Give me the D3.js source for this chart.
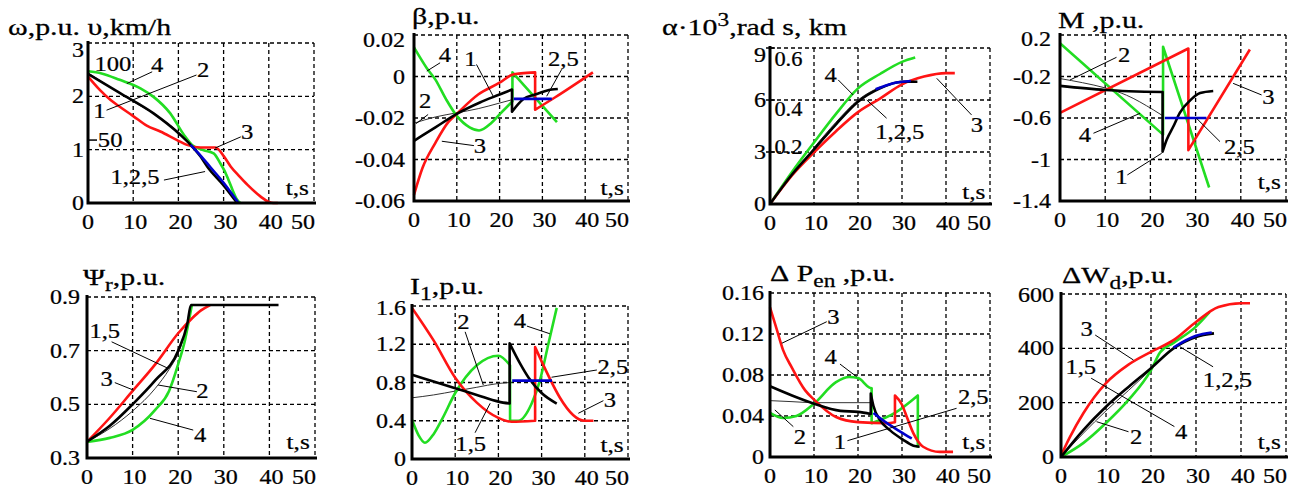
<!DOCTYPE html>
<meta charset="utf-8">
<head>
  <title>Braking transients</title>
  <script src="https://cdn.jsdelivr.net/npm/d3@7/dist/d3.min.js"></script>
  <style>
    body { margin: 0; background: #fff; }
    text { font-family: 'Liberation Serif', 'Times New Roman', serif; fill: #000; stroke: #000; stroke-width: 0.25px; }
  </style>
</head>
<body>
<div id="chart"></div>
<script>
// ---- data: time axis ticks
const xTicks = [0, 10, 20, 30, 40, 50];

// ---- panel 1: omega (p.u.)
const w1 = [[0,2.42],[7.1,2.06],[14.5,1.68],[20.4,1.28],[22.7,1.09],[24.9,0.87],[26.4,0.68],[30,0.33],[33,0]];
const w2 = [[0,2.44],[5,2.17],[10,1.9],[15,1.65],[20,1.33],[22.7,1.1]];
const w3 = [[0,2.37],[2.5,2.13],[5,1.93],[7.1,1.8],[10,1.63],[13,1.45],[16,1.34],[19.7,1.18],[21.9,1.09],[24.9,1.04],[28.2,1.04],[30.1,0.87],[31.6,0.68],[33.5,0.5],[35.3,0.34],[38.2,0.12],[40,0.02],[41,0],[42,0]];
const w4 = [[0,2.47],[3,2.43],[7,2.31],[11.6,2.15],[14.5,1.99],[18.2,1.68],[21.2,1.28],[23,1.09],[25.6,0.99],[27.8,0.93],[29.3,0.74],[30.1,0.62],[31,0.45],[32,0.24],[33,0.06],[33.7,0]];
const w5 = [[22.7,1.09],[25,0.88],[27,0.68],[30,0.38],[33.3,0]];

// ---- panel 2: beta (p.u.)
const b1 = [[0,-0.031],[5,-0.0245],[10,-0.018],[15.4,-0.0125],[20,-0.0087],[22.9,-0.0063],[22.9,-0.017],[25.5,-0.011],[28.3,-0.0087],[32.2,-0.0063],[33.6,-0.006]];
const b2 = [[0,-0.0225],[5,-0.0195],[10,-0.0175],[15,-0.0155],[20,-0.0128],[22.9,-0.0112]];
const b3 = [[0,-0.057],[2,-0.044],[5,-0.032],[8,-0.022],[10,-0.018],[15,-0.0087],[20,-0.003],[23.1,0.001],[25,0.0015],[28.3,0.002],[28.3,-0.016],[33,-0.01],[41.8,0.002]];
const b4 = [[0,0.014],[3,0.004],[5,-0.0015],[7.5,-0.011],[10,-0.019],[13,-0.0245],[15.2,-0.026],[18,-0.0225],[20.1,-0.018],[23,-0.012],[23,0.002],[33.4,-0.022]];
const b5 = [[23.3,-0.0108],[32.2,-0.0108]];

// ---- panel 3: alpha*10^3 (rad)
const a1 = [[0,0],[5,1.7],[10,3.15],[15,4.6],[20,5.9],[25,6.67],[30,7.05],[33.5,7.05]];
const a2 = [[10,3.25],[15,4.72],[20,6.0],[25,6.75]];
const a3 = [[0,0],[5,1.65],[10,2.98],[15,4.2],[20,5.3],[25,6.08],[30,6.9],[35,7.35],[40,7.55],[42,7.55]];
const a4 = [[0,0],[5,1.85],[10,3.55],[15,5.2],[20,6.67],[25,7.5],[30,8.2],[33,8.45]];
const a5 = [[24,6.62],[28,6.97],[32,7.1]];

// ---- panel 4: M (p.u.)
const m1 = [[0,-0.29],[10,-0.33],[22.7,-0.35],[22.7,-0.925],[23.6,-0.81],[25.1,-0.68],[26.5,-0.55],[28.8,-0.43],[31,-0.36],[33.9,-0.34]];
const m2 = [[0,-0.22],[5,-0.26],[10,-0.31],[14.7,-0.38],[20.6,-0.52],[22.8,-0.58]];
const m3 = [[0,-0.55],[28.4,0.07],[28.4,-0.91],[42,0.06]];
const m4 = [[0,0.12],[22.8,-0.76],[22.8,0.087],[33,-1.27]];
const m5 = [[23.2,-0.6],[32.4,-0.6]];

// ---- panel 5: Psi_r (p.u.)
const p1 = [[0,0.361],[5,0.42],[10,0.5],[15,0.59],[20,0.7],[22,0.8],[22.8,0.87],[42,0.87]];
const p2 = [[0,0.36],[5,0.41],[10,0.475],[15,0.56],[18,0.63],[20,0.69],[22,0.79]];
const p3 = [[0,0.36],[5,0.45],[10,0.55],[15,0.65],[20,0.765],[23,0.82],[25,0.85],[27,0.87]];
const p4 = [[0,0.36],[5,0.375],[10,0.405],[15,0.48],[18,0.55],[20,0.65],[21.5,0.74],[22.5,0.825],[23,0.87]];

// ---- panel 6: I1 (p.u.)
const i1 = [[0,0.88],[5,0.81],[10,0.74],[15,0.67],[20,0.6],[22.6,0.58],[22.6,1.21],[25,1.0],[27,0.85],[30,0.69],[33.5,0.58]];
const i2 = [[0,0.64],[5,0.67],[10,0.71],[15,0.75],[20,0.79],[22.6,0.8]];
const i3 = [[0,1.58],[5,1.24],[10,0.85],[15,0.59],[20,0.43],[23,0.39],[28.5,0.4],[28.5,1.17],[40,0.4],[42,0.4]];
const i4 = [[0,0.41],[1.5,0.25],[3,0.17],[5,0.26],[7,0.42],[10,0.69],[15,0.98],[20,1.08],[22.7,0.98],[22.7,0.4],[24.6,0.4],[27.7,0.58],[29.6,0.82],[31.6,1.21],[33.5,1.58]];
const i5 = [[23.2,0.82],[32.4,0.82]];

// ---- panel 7: dP_en (p.u.)
const e1 = [[0,0.069],[5,0.06],[10,0.052],[16,0.045],[20,0.044],[22.9,0.042],[22.9,0.062],[23.5,0.05],[25,0.036],[27.3,0.026],[30.2,0.017],[32.6,0.011],[34,0.01]];
const e2 = [[0,0.055],[5,0.054],[10,0.053],[15,0.053],[20,0.053],[22.9,0.053]];
const e3 = [[0,0.146],[1.5,0.125],[3,0.104],[5,0.087],[8,0.065],[10,0.056],[15,0.039],[20,0.034],[26.6,0.033],[28.4,0.034],[28.4,0.06],[30,0.051],[31.1,0.039],[32.6,0.023],[34.8,0.01],[38.6,0.005],[41.6,0.005]];
const e4 = [[0,0.043],[3,0.038],[6,0.04],[10,0.052],[15,0.073],[18,0.078],[20,0.077],[22.5,0.068],[23.1,0.067],[23.1,0.033],[28.4,0.043],[33.6,0.06],[33.6,0.009]];
const e5 = [[23.5,0.043],[26.6,0.033],[29.5,0.025],[32.2,0.018]];

// ---- panel 8: dW_d (p.u.)
const q1 = [[0,0],[5,100],[10,185],[15,258],[20,327],[25,400],[30,442],[34,455]];
const q2 = [[0,0],[5,88],[10,170],[15,245],[20,322]];
const q3 = [[0,5],[2,74],[5,162],[10,272],[15,340],[20,387],[25,430],[30,497],[35,552],[40,566],[42,566]];
const q4 = [[0,0],[5,52],[10,125],[15,210],[20,320],[22,385],[25,420],[30,480],[33,533]];
const q5 = [[25,403],[30,446],[33.5,458]];

// ---- y ticks and labels
const yt1 = [0,1,2,3],              yl1 = ['0','1','2','3'];
const yt2 = [-0.06,-0.04,-0.02,0,0.02], yl2 = ['-0.06','-0.04','-0.02','0','0.02'];
const yt3 = [0,3,6,9],              yl3 = ['0','3','6','9'];
const yt4 = [-1.4,-1,-0.6,-0.2,0.2],  yl4 = ['-1.4','-1','-0.6','-0.2','0.2'];
const yt5 = [0.3,0.5,0.7,0.9],      yl5 = ['0.3','0.5','0.7','0.9'];
const yt6 = [0,0.4,0.8,1.2,1.6],    yl6 = ['0','0.4','0.8','1.2','1.6'];
const yt7 = [0,0.04,0.08,0.12,0.16], yl7 = ['0','0.04','0.08','0.12','0.16'];
const yt8 = [0,200,400,600],        yl8 = ['0','200','400','600'];

// ---- curve labels: [text, t, v, leader t1, v1, t2, v2]
const n1 = [['4',15.3,2.46,14.2,2.46,8.6,2.24],['2',25.5,2.36,24,2.4,4.1,1.74],['1',2.5,1.6],
            ['3',35.2,1.2,33.8,1.24,28.1,1.03],['1,2,5',10.4,0.36,16.8,0.43,25.9,0.59],
            ['100',5.5,2.475],['50',4.9,1.05]];
const n2 = [['4',7.2,0.007,6.1,0.0066,3,0.0026],['1',13.2,0.0053,14.6,0.0058,18.5,-0.0095],
            ['2,5',34.9,0.0053,34.5,0.0034,31,-0.0095],['2',2.6,-0.0154,3.3,-0.0183,0.5,-0.0227],
            ['3',15.4,-0.0371,14,-0.0333,6.5,-0.0312]];
const n3 = [['4',13.8,7.01,15.5,7.16,18.9,6.29],['1,2,5',29.5,3.75,26.5,4.95,22,6.0],
            ['3',47,4.13,45.8,5.14,37.9,7.25]];
const n3km = [['0.6',7.96],['0.4',5.08],['0.2',2.89]];
const n4 = [['2',14.2,-0.065,12.5,-0.015,2.2,-0.234],['3',46.1,-0.465,44.6,-0.378,38.3,-0.266],
            ['4',5.5,-0.836,7.4,-0.747,17.7,-0.555],['2,5',39.7,-0.947,35.4,-0.828,30.2,-0.603],
            ['1',13.6,-1.236,14.9,-1.149,22.5,-0.94]];
const n5 = [['1,5',3.9,0.749,5.4,0.733,17.8,0.634],['3',4.3,0.568,6.1,0.581,10.2,0.553],
            ['2',25.3,0.525,24.1,0.547,15.6,0.572],['4',24.8,0.358,23.3,0.404,13.8,0.448]];
const n6 = [['2',11.9,1.36,12.3,1.33,16.5,0.774],['4',25,1.375,26.6,1.39,31.9,1.31],
            ['2,5',46.5,0.889,42.8,0.931,32.3,0.855],['3',45.8,0.539,44.3,0.61,38.5,0.478],
            ['1,5',13.6,0.084,14.6,0.275,18.1,0.583]];
const n7 = [['3',14.4,0.13,12.9,0.132,2.7,0.111],['4',13.8,0.0907,15.9,0.0907,19.7,0.0783],
            ['2',6.8,0.0127,5.3,0.0296,1.1,0.0459],['1',15.9,0.0078,17.6,0.0159,42.4,0.0475],
            ['2,5',46.2,0.0517]];
const n8 = [['3',5.7,445,7.6,449,16.1,357],['1,2,5',37,256,33.8,332,26.4,406],
            ['1,5',4.4,305,6.7,290,25.2,112],['4',26.7,66],['2',16.7,48,15,93,7.9,130]];

const green = '#22dd22', red = '#ff1414', blue = '#0000cc', thin = '#333';

// panel layout (pixels) and content
const panels = [
  {box:[88,314,43,203], y:[0,3], yt:yt1, yl:yl1, gap:4, top:7,
   title:[['ω,p.u.\u00a0υ,km/h']], tx:8, ty:35, ts:[0,0.15],
   s:[w2,w4,w3,w1,w5], n:n1, tick:[1.18]},
  {box:[414,628,35,201], y:[-0.06,0.02], yt:yt2, yl:yl2, gap:9, top:5,
   title:[['β,p.u.']], tx:412, ty:24, ts:[0,-0.0569],
   s:[b2,b4,b3,b1,b5], n:n2},
  {box:[770,990,48,204], y:[0,9], yt:yt3, yl:yl3, gap:4, top:7,
   title:[['α·10'],['3','sup'],[',rad\u00a0s,\u00a0km']], tx:662, ty:35, ts:[0,0.29],
   s:[a2,a4,a3,a1,a5], n:n3, km:n3km, cross:true},
  {box:[1060,1286,35,201], y:[-1.4,0.2], yt:yt4, yl:yl4, gap:9, top:4,
   title:[['M\u00a0,p.u.']], tx:1058, ty:28, ts:[0,-1.284],
   s:[m2,m4,m3,m1,m5], n:n4},
  {box:[87,315,297,458], y:[0.3,0.9], yt:yt5, yl:yl5, gap:7, top:0,
   title:[['Ψ'],['r','sub'],[',p.u.']], tx:83, ty:285, ts:[0,0.334],
   s:[p2,p4,p3,p1], n:n5},
  {box:[412,628,306,459], y:[0,1.6], yt:yt6, yl:yl6, gap:6, top:2,
   title:[['I'],['1','sub'],[',p.u.']], tx:410, ty:294, ts:[0,0.073],
   s:[i2,i4,i3,i1,i5], n:n6},
  {box:[770,990,293,457], y:[0,0.16], yt:yt7, yl:yl7, gap:6, top:0,
   title:[['Δ\u00a0P'],['en','sub'],['\u00a0,p.u.']], tx:770, ty:281, ts:[0,0.0078],
   s:[e2,e4,e3,e1,e5], n:n7},
  {box:[1061,1286,294,457], y:[0,600], yt:yt8, yl:yl8, gap:7, top:1,
   title:[['ΔW'],['d','sub'],[',p.u.']], tx:1062, ty:283, ts:[0,29],
   s:[q2,q4,q3,q1,q5], n:n8}
];
const styles = [
  {c:thin, w:1}, {c:green, w:2.6}, {c:red, w:2.6}, {c:'#000', w:2.6}, {c:blue, w:2.6}
];

const W = 1301, H = 489;
const svg = d3.select('#chart').append('svg').attr('width', W).attr('height', H);

// scaled text helper (source text is horizontally wide)
function label(g, x, y, s, size, sx, anchor) {
  return g.append('g').attr('transform', `translate(${x},${y}) scale(${sx},1)`)
    .append('text').attr('text-anchor', anchor || 'middle')
    .style('font-size', size + 'px').text(s);
}

// smooth pieces, vertical jumps where t repeats
function pathOf(data, x, y) {
  const pieces = [[data[0]]];
  for (let i = 1; i < data.length; i++) {
    if (data[i][0] === data[i-1][0]) pieces.push([data[i]]);
    else pieces[pieces.length-1].push(data[i]);
  }
  const line = d3.line().x(d => x(d[0])).y(d => y(d[1])).curve(d3.curveMonotoneX);
  return pieces.map((pc, i) => {
    let s = pc.length > 1 ? line(pc) : `M${x(pc[0][0])},${y(pc[0][1])}`;
    return i ? 'L' + s.slice(1) : s;
  }).join('');
}

panels.forEach(p => {
  const [l, r, t, b] = p.box;
  const x = d3.scaleLinear().domain([0, 50]).range([l, r]);
  const y = d3.scaleLinear().domain(p.y).range([b, t]);
  const g = svg.append('g');

  // dashed grid (including top and right borders)
  g.selectAll('.gx').data(xTicks.slice(1)).join('line')
    .attr('x1', d => x(d)).attr('x2', d => x(d)).attr('y1', t).attr('y2', b)
    .attr('stroke', '#000').attr('stroke-width', 1.3).attr('stroke-dasharray', '4,3');
  g.selectAll('.gy').data(p.yt.slice(1)).join('line')
    .attr('y1', d => y(d)).attr('y2', d => y(d)).attr('x1', l).attr('x2', r)
    .attr('stroke', '#000').attr('stroke-width', 1.3).attr('stroke-dasharray', '4,3');

  // curves
  p.s.forEach((d, i) => {
    const st = styles[i];
    g.append('path').attr('d', pathOf(d, x, y)).attr('fill', 'none')
      .attr('stroke', st.c).attr('stroke-width', st.w).attr('stroke-linejoin', 'round');
  });

  // axes
  g.append('path').attr('d', `M${l},${t-2}V${b}H${r+2}`).attr('fill', 'none')
    .attr('stroke', '#000').attr('stroke-width', 3);
  if (p.cross) p.yt.slice(1).forEach(v => g.append('line')
    .attr('x1', l - 4).attr('x2', l + 5).attr('y1', y(v)).attr('y2', y(v))
    .attr('stroke', '#000').attr('stroke-width', 1.5));
  if (p.tick) p.tick.forEach(v => g.append('line')
    .attr('x1', l).attr('x2', l + 9).attr('y1', y(v)).attr('y2', y(v))
    .attr('stroke', '#000').attr('stroke-width', 1.5));

  // tick labels (last time label sits flush with the right border,
  // top value label is pushed down a little, as in the source)
  xTicks.forEach((v, i) => {
    const last = i === xTicks.length - 1;
    label(g, last ? r + 1 : x(v) + (i ? 2 : 0), b + 26, String(v), 20, 1.2, last ? 'end' : 'middle');
  });
  p.yt.forEach((v, i) => {
    const dy = i === p.yt.length - 1 ? p.top : 0;
    label(g, l - p.gap, y(v) + 7 + dy, p.yl[i], 20, 1.2, 'end');
  });

  // secondary km labels (panel 3)
  if (p.km) p.km.forEach(k => label(g, x(1.0), y(k[1]), k[0], 20, 1.12, 'start'));

  // curve numbers with leader lines
  p.n.forEach(n => {
    if (n.length > 3) g.append('line')
      .attr('x1', x(n[3])).attr('y1', y(n[4])).attr('x2', x(n[5])).attr('y2', y(n[6]))
      .attr('stroke', '#000').attr('stroke-width', 1);
    label(g, x(n[1]), y(n[2]), n[0], 22, 1.12, 'middle');
  });

  // time label
  label(g, x(46.3), y(p.ts[1]), 't,s', 22, 1.15, 'middle');

  // title
  const tt = g.append('g').attr('transform', `translate(${p.tx},${p.ty}) scale(1.3,1)`)
    .append('text').style('font-size', '23px');
  let shift = 0;
  p.title.forEach(part => {
    const sp = tt.append('tspan').text(part[0]);
    const want = part[1] === 'sub' ? 6 : part[1] === 'sup' ? -9 : 0;
    sp.attr('dy', want - shift);
    if (part[1]) sp.style('font-size', '18px');
    shift = want;
  });
});
</script>
</body>
</html>
